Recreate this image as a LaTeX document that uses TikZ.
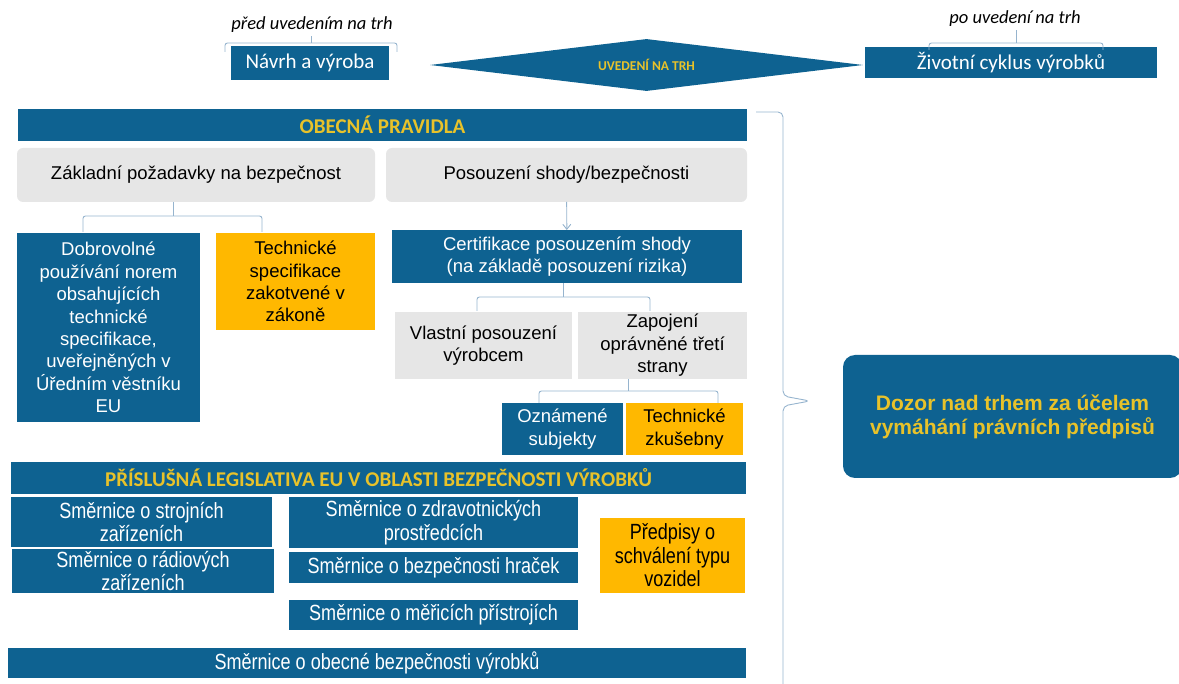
\documentclass[tikz,border=0pt]{standalone}
\usepackage{fontspec}
\usepackage{xcolor}
\usepackage{tikz}
\usetikzlibrary{shapes.geometric,arrows.meta}
\setmainfont{Liberation Sans}
\newfontfamily\calib{Carlito}
\newfontfamily\narrow[FakeStretch=0.82]{Liberation Sans}
\definecolor{eublue}{RGB}{14,98,145}
\definecolor{eugold}{RGB}{255,184,0}
\definecolor{euyellow}{RGB}{232,194,42}
\definecolor{eugrey}{RGB}{230,230,230}
\definecolor{eubrace}{RGB}{150,180,206}

\begin{document}
\begin{tikzpicture}[x=1pt,y=-1pt,
    box/.style={inner sep=0pt,outer sep=0pt,align=center,font=\fontsize{18.5}{22.4}\selectfont},
    bluebox/.style={box,fill=eublue,text=white},
    goldbox/.style={box,fill=eugold,text=black},
    greybox/.style={box,fill=eugrey,text=black},
    titlebar/.style={box,fill=eublue,text=euyellow,font=\calib\bfseries\fontsize{21}{24}\selectfont},
    directive/.style={font=\narrow\fontsize{22}{23.5}\selectfont},
    phase/.style={font=\calib\itshape\fontsize{18.5}{20}\selectfont},
    brace/.style={draw=eubrace,line width=0.9pt,rounded corners=2.5pt}]
    \useasboundingbox (0,0) rectangle (1179,684);

    % trh: pred a po uvedeni
    \node[phase] (pre) at (312,25) {před uvedením na trh};
    \node[bluebox,font=\calib\fontsize{21}{22}\selectfont,minimum width=158,minimum height=34] (navrh) at (310,63) {Návrh a výroba};
    \node[shape=diamond,aspect=8.3,fill=eublue,inner sep=0pt,minimum width=433,minimum height=52,text=euyellow,font=\calib\bfseries\fontsize{13.5}{14}\selectfont] (uved) at (646.5,65) {UVEDENÍ NA TRH};
    \node[phase] (post) at (1015,19) {po uvedení na trh};
    \node[bluebox,font=\calib\fontsize{21}{22}\selectfont,minimum width=292,minimum height=31] (zivot) at (1011,62.5) {Životní cyklus výrobků};

    \node[titlebar,minimum width=729,minimum height=32] (obecna) at (382.5,125) {OBECNÁ PRAVIDLA};
    \node[greybox,rounded corners=6pt,minimum width=358,minimum height=54] (zak) at (196,175) {Základní požadavky na bezpečnost};
    \node[greybox,rounded corners=6pt,minimum width=361,minimum height=54] (pos) at (566.5,175) {Posouzení shody/bezpečnosti};
    \node[bluebox,minimum width=183,minimum height=189] (dobr) at (108.5,327.5) {Dobrovolné\\používání norem\\obsahujících\\technické\\specifikace,\\uveřejněných v\\Úředním věstníku\\EU};
    \node[goldbox,minimum width=159,minimum height=97] (tech) at (295.5,281.5) {Technické\\specifikace\\zakotvené v\\zákoně};
    \node[bluebox,minimum width=350,minimum height=53] (cert) at (567,256.5) {Certifikace posouzením shody\\(na základě posouzení rizika)};
    \node[greybox,minimum width=177,minimum height=67] (vlast) at (483.5,345.5) {Vlastní posouzení\\výrobcem};
    \node[greybox,minimum width=169,minimum height=67] (zapoj) at (662.5,345.5) {Zapojení\\oprávněné třetí\\strany};
    \node[bluebox,minimum width=121,minimum height=52] (ozn) at (562.5,429) {Oznámené\\subjekty};
    \node[goldbox,minimum width=117,minimum height=52] (zkus) at (684.5,429) {Technické\\zkušebny};

    \node[titlebar,minimum width=735,minimum height=32] (prisl) at (378.5,478) {PŘÍSLUŠNÁ LEGISLATIVA EU V OBLASTI BEZPEČNOSTI VÝROBKŮ};
    \node[bluebox,directive,minimum width=261,minimum height=50] (stroj) at (141.5,522) {Směrnice o strojních\\zařízeních};
    \node[bluebox,directive,minimum width=262,minimum height=44] (radio) at (143,571) {Směrnice o rádiových\\zařízeních};
    \node[bluebox,directive,minimum width=289,minimum height=51] (zdrav) at (433.5,522.5) {Směrnice o zdravotnických\\prostředcích};
    \node[bluebox,directive,minimum width=289,minimum height=31] (hrac) at (433.5,567.5) {Směrnice o bezpečnosti hraček};
    \node[bluebox,directive,minimum width=289,minimum height=30] (meric) at (433.5,615) {Směrnice o měřicích přístrojích};
    \node[goldbox,directive,minimum width=145,minimum height=75] (vozid) at (672.5,555.5) {Předpisy o\\schválení typu\\vozidel};
    \node[bluebox,directive,minimum width=738,minimum height=30] (obec) at (377,663) {Směrnice o obecné bezpečnosti výrobků};

    \node[bluebox,rounded corners=12pt,text=euyellow,font=\bfseries\fontsize{21}{24}\selectfont,minimum width=339,minimum height=123] (dozor) at (1012.5,416.5) {Dozor nad trhem za účelem\\vymáhání právních předpisů};

    % svorky
    \coordinate (preL) at (225,52); \coordinate (preM) at (311,43); \coordinate (preR) at (397,52);
    \draw[brace] (preL) |- (preM) -| (preR);
    \draw[brace] (preM) -- (preM |- pre.south);
    \coordinate (postL) at (929,50); \coordinate (postM) at (1016,43); \coordinate (postR) at (1103,50);
    \draw[brace] (postL) |- (postM) -| (postR);
    \draw[brace] (postM) -- (postM |- post.south);
    \coordinate (zakL) at (83,232); \coordinate (zakM) at (173,216); \coordinate (zakR) at (262,232);
    \draw[brace] (zakL) |- (zakM) -| (zakR);
    \draw[brace] (zakM) -- (zakM |- zak.south);
    \coordinate (certL) at (477,311); \coordinate (certM) at (563,297); \coordinate (certR) at (650,311);
    \draw[brace] (certL) |- (certM) -| (certR);
    \draw[brace] (certM) -- (certM |- cert.south);
    \coordinate (zapL) at (539,403); \coordinate (zapM) at (628,391); \coordinate (zapR) at (718,403);
    \draw[brace] (zapL) |- (zapM) -| (zapR);
    \draw[brace] (zapM) -- (zapM |- zapoj.south);
    \coordinate (dozM) at (810,401);
    \draw[brace,rounded corners=5pt] (756,112) -| (783,396) -- (dozM) -- (783,406) -- (783,690);

    \draw[draw=eubrace,line width=0.9pt,-{Straight Barb[length=5pt,width=8pt]}] (pos) -- (cert);
\end{tikzpicture}
\end{document}
